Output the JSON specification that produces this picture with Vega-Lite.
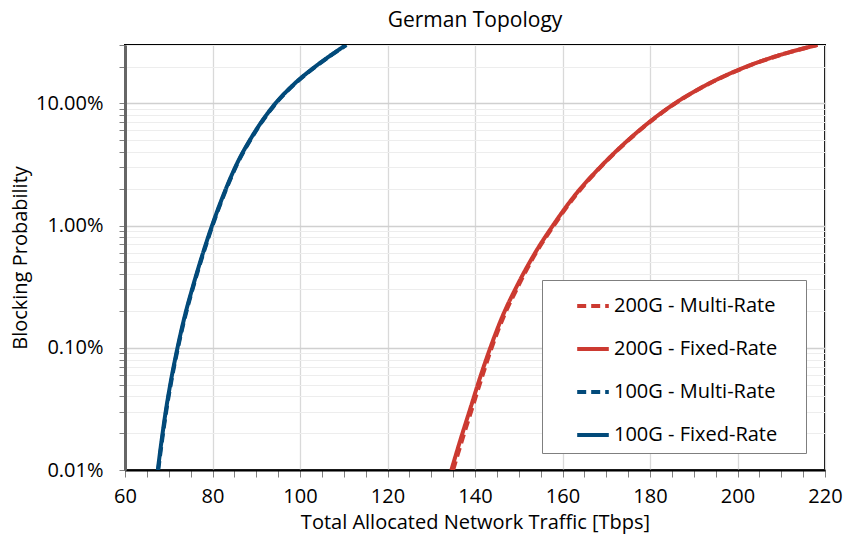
{
  "$schema": "https://vega.github.io/schema/vega-lite/v6.json",
  "width": 700,
  "height": 425,
  "autosize": {"type": "none"},
  "padding": {"left": 125, "top": 45, "right": 21, "bottom": 78},
  "background": "white",
  "config": {
    "font": "Open Sans",
    "view": {"stroke": "#000000", "strokeWidth": 2}
  },
  "title": {"text": "German Topology", "fontSize": 21, "fontWeight": "normal", "font": "Open Sans", "color": "#000000", "offset": 14, "anchor": "middle"},
  "data": {"values": [
    {"x": 67.5, "p": 0.0001, "series": "100G - Fixed-Rate"},
    {"x": 68.4, "p": 0.000178, "series": "100G - Fixed-Rate"},
    {"x": 69.4, "p": 0.000316, "series": "100G - Fixed-Rate"},
    {"x": 70.6, "p": 0.000562, "series": "100G - Fixed-Rate"},
    {"x": 72.0, "p": 0.001, "series": "100G - Fixed-Rate"},
    {"x": 73.6, "p": 0.00178, "series": "100G - Fixed-Rate"},
    {"x": 75.5, "p": 0.00316, "series": "100G - Fixed-Rate"},
    {"x": 77.6, "p": 0.00562, "series": "100G - Fixed-Rate"},
    {"x": 79.9, "p": 0.01, "series": "100G - Fixed-Rate"},
    {"x": 82.5, "p": 0.0178, "series": "100G - Fixed-Rate"},
    {"x": 85.5, "p": 0.0316, "series": "100G - Fixed-Rate"},
    {"x": 89.4, "p": 0.0562, "series": "100G - Fixed-Rate"},
    {"x": 94.4, "p": 0.1, "series": "100G - Fixed-Rate"},
    {"x": 98.4, "p": 0.141, "series": "100G - Fixed-Rate"},
    {"x": 103.5, "p": 0.2, "series": "100G - Fixed-Rate"},
    {"x": 107.3, "p": 0.251, "series": "100G - Fixed-Rate"},
    {"x": 110.5, "p": 0.3, "series": "100G - Fixed-Rate"},
    {"x": 67.6, "p": 0.0001, "series": "100G - Multi-Rate"},
    {"x": 68.5, "p": 0.000178, "series": "100G - Multi-Rate"},
    {"x": 69.5, "p": 0.000316, "series": "100G - Multi-Rate"},
    {"x": 70.7, "p": 0.000562, "series": "100G - Multi-Rate"},
    {"x": 72.1, "p": 0.001, "series": "100G - Multi-Rate"},
    {"x": 73.7, "p": 0.00178, "series": "100G - Multi-Rate"},
    {"x": 75.6, "p": 0.00316, "series": "100G - Multi-Rate"},
    {"x": 77.7, "p": 0.00562, "series": "100G - Multi-Rate"},
    {"x": 80.0, "p": 0.01, "series": "100G - Multi-Rate"},
    {"x": 82.6, "p": 0.0178, "series": "100G - Multi-Rate"},
    {"x": 85.6, "p": 0.0316, "series": "100G - Multi-Rate"},
    {"x": 89.5, "p": 0.0562, "series": "100G - Multi-Rate"},
    {"x": 94.5, "p": 0.1, "series": "100G - Multi-Rate"},
    {"x": 98.5, "p": 0.141, "series": "100G - Multi-Rate"},
    {"x": 103.6, "p": 0.2, "series": "100G - Multi-Rate"},
    {"x": 107.4, "p": 0.251, "series": "100G - Multi-Rate"},
    {"x": 110.6, "p": 0.3, "series": "100G - Multi-Rate"},
    {"x": 134.6, "p": 0.0001, "series": "200G - Fixed-Rate"},
    {"x": 136.7, "p": 0.000178, "series": "200G - Fixed-Rate"},
    {"x": 138.9, "p": 0.000316, "series": "200G - Fixed-Rate"},
    {"x": 141.1, "p": 0.000562, "series": "200G - Fixed-Rate"},
    {"x": 143.5, "p": 0.001, "series": "200G - Fixed-Rate"},
    {"x": 146.2, "p": 0.00178, "series": "200G - Fixed-Rate"},
    {"x": 149.5, "p": 0.00316, "series": "200G - Fixed-Rate"},
    {"x": 153.3, "p": 0.00562, "series": "200G - Fixed-Rate"},
    {"x": 157.8, "p": 0.01, "series": "200G - Fixed-Rate"},
    {"x": 162.9, "p": 0.0178, "series": "200G - Fixed-Rate"},
    {"x": 169.2, "p": 0.0316, "series": "200G - Fixed-Rate"},
    {"x": 176.6, "p": 0.0562, "series": "200G - Fixed-Rate"},
    {"x": 185.7, "p": 0.1, "series": "200G - Fixed-Rate"},
    {"x": 192.8, "p": 0.141, "series": "200G - Fixed-Rate"},
    {"x": 202.1, "p": 0.2, "series": "200G - Fixed-Rate"},
    {"x": 210.1, "p": 0.251, "series": "200G - Fixed-Rate"},
    {"x": 218.2, "p": 0.3, "series": "200G - Fixed-Rate"},
    {"x": 135.0, "p": 0.0001, "series": "200G - Multi-Rate"},
    {"x": 137.1, "p": 0.000178, "series": "200G - Multi-Rate"},
    {"x": 139.3, "p": 0.000316, "series": "200G - Multi-Rate"},
    {"x": 141.5, "p": 0.000562, "series": "200G - Multi-Rate"},
    {"x": 143.8, "p": 0.001, "series": "200G - Multi-Rate"},
    {"x": 146.5, "p": 0.00178, "series": "200G - Multi-Rate"},
    {"x": 149.8, "p": 0.00316, "series": "200G - Multi-Rate"},
    {"x": 153.5, "p": 0.00562, "series": "200G - Multi-Rate"},
    {"x": 158.0, "p": 0.01, "series": "200G - Multi-Rate"},
    {"x": 163.1, "p": 0.0178, "series": "200G - Multi-Rate"},
    {"x": 169.3, "p": 0.0316, "series": "200G - Multi-Rate"},
    {"x": 176.7, "p": 0.0562, "series": "200G - Multi-Rate"},
    {"x": 185.8, "p": 0.1, "series": "200G - Multi-Rate"},
    {"x": 192.9, "p": 0.141, "series": "200G - Multi-Rate"},
    {"x": 202.2, "p": 0.2, "series": "200G - Multi-Rate"},
    {"x": 210.2, "p": 0.251, "series": "200G - Multi-Rate"},
    {"x": 218.3, "p": 0.3, "series": "200G - Multi-Rate"}
  ]},
  "mark": {"type": "line", "strokeWidth": 4, "clip": true, "interpolate": "monotone"},
  "encoding": {
    "x": {
      "field": "x", "type": "quantitative",
      "scale": {"domain": [60, 220], "nice": false, "zero": false},
      "axis": {
        "title": "Total Allocated Network Traffic [Tbps]",
        "titleFontSize": 20, "titleFontWeight": "normal", "titleColor": "#000000", "titlePadding": 6,
        "values": [60,65,70,75,80,85,90,95,100,105,110,115,120,125,130,135,140,145,150,155,160,165,170,175,180,185,190,195,200,205,210,215,220],
        "labelExpr": "datum.value % 20 == 0 ? datum.value : ''",
        "labelFontSize": 20, "labelColor": "#000000", "labelPadding": 9, "labelFlush": false,
        "tickSize": 7, "tickColor": "#7f7f7f", "tickWidth": 1,
        "domainColor": "#000000", "domainWidth": 2,
        "grid": true, "gridColor": "#d9d9d9", "gridWidth": 1.3,
        "gridOpacity": {"condition": {"test": "datum.value % 20 == 0", "value": 1}, "value": 0}
      }
    },
    "y": {
      "field": "p", "type": "quantitative",
      "scale": {"type": "log", "domain": [0.0001, 0.3], "nice": false},
      "axis": {
        "title": "Blocking Probability",
        "titleFontSize": 20, "titleFontWeight": "normal", "titleColor": "#000000", "titlePadding": 5,
        "values": [0.0001,0.0002,0.0003,0.0004,0.0005,0.0006,0.0007,0.0008,0.0009,0.001,0.002,0.003,0.004,0.005,0.006,0.007,0.008,0.009,0.01,0.02,0.03,0.04,0.05,0.06,0.07,0.08,0.09,0.1,0.2,0.3],
        "labelExpr": "(datum.value == 0.0001 || datum.value == 0.001 || datum.value == 0.01 || datum.value == 0.1) ? format(datum.value, '.2%') : ''",
        "labelFontSize": 20, "labelColor": "#000000", "labelPadding": 16,
        "tickSize": 6, "tickColor": "#7f7f7f", "tickWidth": 1,
        "domainColor": "#666666", "domainWidth": 3,
        "grid": true,
        "gridColor": {"condition": {"test": "datum.value == 0.0001 || datum.value == 0.001 || datum.value == 0.01 || datum.value == 0.1", "value": "#d0d0d0"}, "value": "#ededed"},
        "gridWidth": {"condition": {"test": "datum.value == 0.0001 || datum.value == 0.001 || datum.value == 0.01 || datum.value == 0.1", "value": 1.5}, "value": 1.2}
      }
    },
    "color": {
      "field": "series", "type": "nominal",
      "scale": {"domain": ["200G - Multi-Rate", "200G - Fixed-Rate", "100G - Multi-Rate", "100G - Fixed-Rate"], "range": ["#cc3a31", "#cc3a31", "#024a7a", "#024a7a"]},
      "legend": {
        "title": null, "orient": "none", "legendX": 417, "legendY": 235,
        "symbolType": "stroke", "symbolSize": 1000, "symbolStrokeWidth": 4,
        "labelFontSize": 20, "labelColor": "#000000", "labelOffset": 3, "labelLimit": 300,
        "labelExpr": "datum.label + '\u2005\u2800'",
        "rowPadding": 15, "padding": 8, "symbolOffset": 25,
        "strokeColor": "#7f7f7f", "fillColor": "#ffffff"
      }
    },
    "strokeDash": {
      "field": "series", "type": "nominal",
      "scale": {"domain": ["200G - Multi-Rate", "200G - Fixed-Rate", "100G - Multi-Rate", "100G - Fixed-Rate"], "range": [[9, 5], [1, 0], [9, 5], [1, 0]]},
      "legend": null
    }
  }
}
